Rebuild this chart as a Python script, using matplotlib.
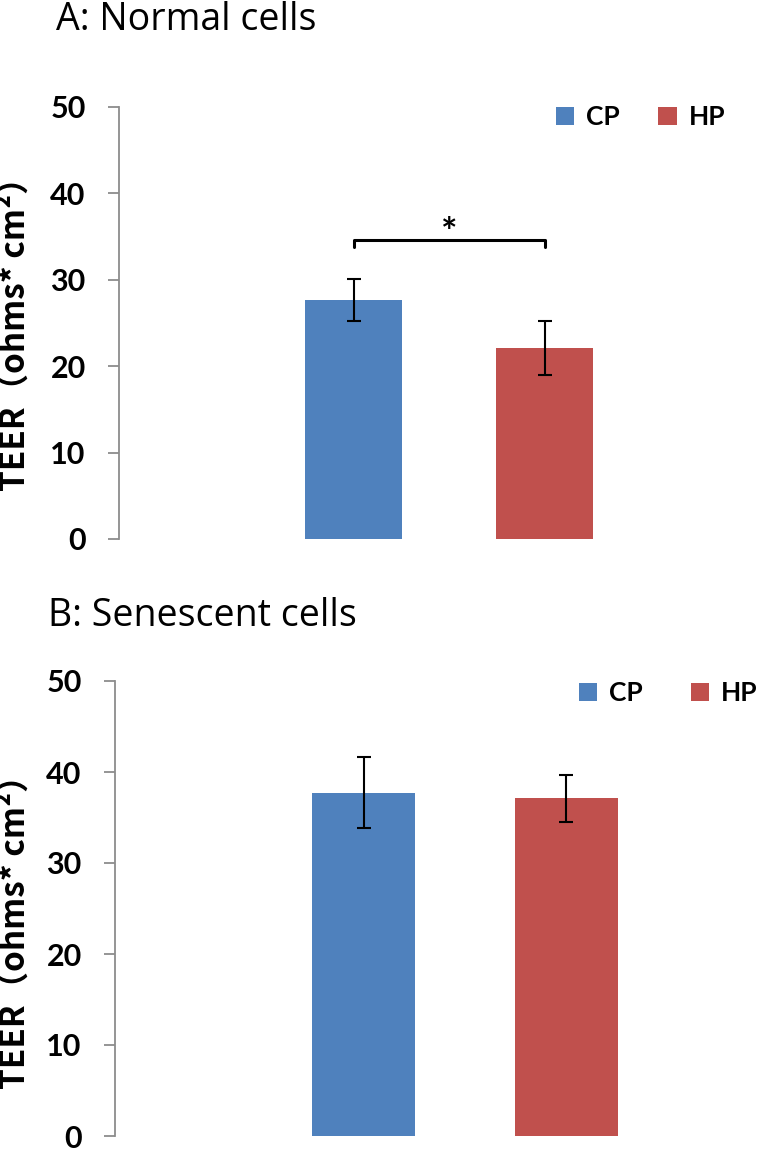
import matplotlib
matplotlib.use("Agg")
import matplotlib.pyplot as plt
from matplotlib.patches import Patch

# data
groups = ["CP", "HP"]
normal_mean = [27.7, 22.1]
normal_err = [2.45, 3.1]
senescent_mean = [37.7, 37.1]
senescent_err = [3.9, 2.6]
colors = ["#4F81BD", "#C0504D"]
yticks = [0, 10, 20, 30, 40, 50]

W, H = 760, 1152
fig = plt.figure(figsize=(W / 100, H / 100), dpi=100)
plt.rcParams["font.family"] = ["Lato", "DejaVu Sans"]

axis_gray = "#8c8c8c"
label_family = ["Noto Sans CJK SC", "DejaVu Sans"]
title_family = ["Open Sans", "DejaVu Sans"]


def px_axes(left, top, bottom, right=W):
    return fig.add_axes([left / W, 1 - bottom / H, (right - left) / W, (bottom - top) / H])


def style_axes(ax):
    for s in ["top", "right", "bottom"]:
        ax.spines[s].set_visible(False)
    ax.spines["left"].set_color(axis_gray)
    ax.spines["left"].set_linewidth(1.3)
    ax.set_ylim(0, 50)
    ax.set_yticks(yticks)
    ax.tick_params(axis="y", direction="out", length=8, width=1.3, color=axis_gray,
                   pad=16, labelsize=22)
    for t in ax.get_yticklabels():
        t.set_fontweight("bold")
    ax.set_xticks([])


def draw_panel(ax, means, errs):
    x = list(range(len(groups)))
    ax.bar(x, means, width=0.508, color=colors, zorder=2)
    ax.errorbar(x, means, yerr=errs, fmt="none", ecolor="black", elinewidth=1.5,
                capsize=5, capthick=1.5, zorder=3)


# panel A
axA = px_axes(119, 107, 539)
draw_panel(axA, normal_mean, normal_err)
style_axes(axA)
axA.set_xlim(-1.228, 2.128)
# significance bracket
axA.plot([0, 0, 1, 1], [33.8, 34.55, 34.55, 33.8], color="black", lw=2.2,
         solid_joinstyle="round", solid_capstyle="round")
axA.text(0.5, 34.0, "*", ha="center", va="baseline", fontsize=28, fontweight="bold")

# panel B
axB = px_axes(115, 681, 1136)
draw_panel(axB, senescent_mean, senescent_err)
style_axes(axB)
axB.set_xlim(-1.228, 1.956)

# titles
fig.text(56 / W, 1 - 20 / H, "A: Normal cells", fontsize=27, va="center", ha="left",
         family=title_family)
fig.text(48 / W, 1 - 616 / H, "B: Senescent cells", fontsize=27, va="center", ha="left",
         family=title_family)

# y labels
ylabel = "TEER（ohms* cm²）"
fig.text(15 / W, 1 - 326 / H, ylabel, rotation=90, fontsize=24, fontweight="bold",
         ha="center", va="center", family=label_family)
fig.text(15 / W, 1 - 924 / H, ylabel, rotation=90, fontsize=24, fontweight="bold",
         ha="center", va="center", family=label_family)

# legends
handles = [Patch(facecolor=c, label=g) for c, g in zip(colors, groups)]
for (lx, ly, gap) in [(556, 105, 1.45), (579, 681, 1.8)]:
    fig.legend(handles=handles, ncol=2, frameon=False, loc="upper left",
               bbox_to_anchor=(lx / W, 1 - ly / H), borderpad=0, borderaxespad=0,
               handlelength=0.7, handleheight=0.7, handletextpad=0.45,
               columnspacing=gap, prop={"size": 19, "weight": "bold"})

fig.savefig("out.png", dpi=100)
